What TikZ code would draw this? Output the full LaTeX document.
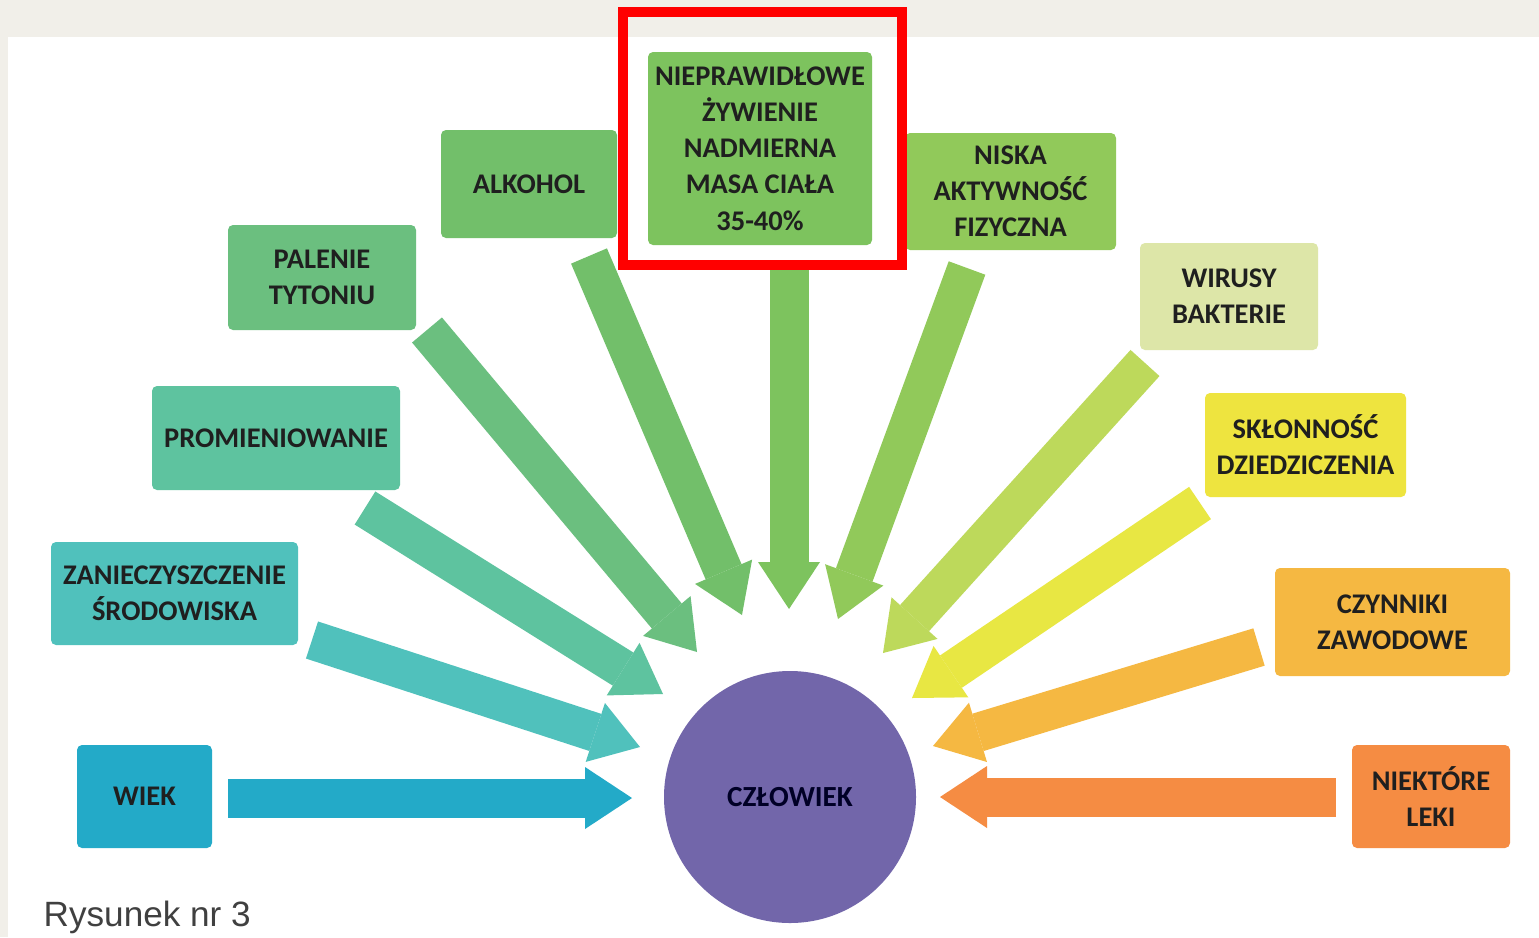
\documentclass[tikz,border=0pt]{standalone}
\usepackage{fontspec}
\setmainfont{Carlito}
\newfontfamily\capfont{Liberation Sans}
\usetikzlibrary{arrows.meta,positioning}

\definecolor{paper}{HTML}{F1EFE9}
\definecolor{cWiek}{HTML}{23AAC8}
\definecolor{cZan}{HTML}{50C1BC}
\definecolor{cProm}{HTML}{5EC39F}
\definecolor{cPal}{HTML}{6BBF7F}
\definecolor{cAlk}{HTML}{72BF6A}
\definecolor{cZyw}{HTML}{7DC35E}
\definecolor{cNis}{HTML}{91C95A}
\definecolor{cWir}{HTML}{DDE6A8}
\definecolor{aWir}{HTML}{BDD95B}
\definecolor{cSkl}{HTML}{EEE43F}
\definecolor{aSkl}{HTML}{E8E743}
\definecolor{cCzy}{HTML}{F5B842}
\definecolor{cLek}{HTML}{F58C43}
\definecolor{cCzl}{HTML}{7266AA}

\begin{document}
\begin{tikzpicture}[
    box/.style={rectangle, rounded corners=0.05cm, align=center, inner sep=0pt, text=black!88, font=\bfseries\fontsize{8.1}{10.3}\selectfont},
    bigarrow/.style={line width=3.9mm, -{Triangle[length=4.7mm, width=6.2mm, line width=0pt]}}
]
    \useasboundingbox (0,0) rectangle (15.39,9.37);
    \fill[paper] (0,0) rectangle (15.39,9.37);
    \fill[white] (0.08,0) rectangle (15.39,9.00);

    % czynniki
    \node[box, fill=cWiek, minimum width=1.35cm, minimum height=1.03cm] (wiek) at (1.445,1.405) {WIEK};
    \node[box, fill=cZan, minimum width=2.47cm, minimum height=1.03cm] (zan) at (1.745,3.435) {ZANIECZYSZCZENIE\\ŚRODOWISKA};
    \node[box, fill=cProm, minimum width=2.48cm, minimum height=1.04cm] (prom) at (2.76,4.99) {PROMIENIOWANIE};
    \node[box, fill=cPal, minimum width=1.88cm, minimum height=1.05cm] (pal) at (3.22,6.595) {PALENIE\\TYTONIU};
    \node[box, fill=cAlk, minimum width=1.76cm, minimum height=1.08cm] (alk) at (5.29,7.53) {ALKOHOL};
    \node[box, fill=cZyw, minimum width=2.24cm, minimum height=1.93cm] (zyw) at (7.60,7.885) {NIEPRAWIDŁOWE\\ŻYWIENIE\\NADMIERNA\\MASA CIAŁA\\35-40\%};
    \node[box, fill=cNis, minimum width=2.11cm, minimum height=1.17cm] (nis) at (10.105,7.455) {NISKA\\AKTYWNOŚĆ\\FIZYCZNA};
    \node[box, fill=cWir, minimum width=1.78cm, minimum height=1.07cm] (wir) at (12.29,6.405) {WIRUSY\\BAKTERIE};
    \node[box, fill=cSkl, minimum width=2.01cm, minimum height=1.04cm] (skl) at (13.055,4.92) {SKŁONNOŚĆ\\DZIEDZICZENIA};
    \node[box, fill=cCzy, minimum width=2.35cm, minimum height=1.08cm] (czy) at (13.925,3.15) {CZYNNIKI\\ZAWODOWE};
    \node[box, fill=cLek, minimum width=1.58cm, minimum height=1.03cm] (lek) at (14.31,1.405) {NIEKTÓRE\\LEKI};

    \node[circle, fill=cCzl, minimum size=2.52cm, inner sep=0pt, text=black!85!blue, font=\bfseries\fontsize{8.3}{10.3}\selectfont] (czl) at (7.90,1.40) {CZŁOWIEK};

    \node[anchor=base west, inner sep=0pt, text=black!75, font=\capfont\fontsize{10}{12}\selectfont] (rys) at (0.43,0.11) {Rysunek nr 3};

    % poczatki i konce strzalek
    \coordinate (wiek-t) at (2.28,1.39);  \coordinate (wiek-h) at (6.32,1.39);
    \coordinate (zan-t) at (3.12,2.97);   \coordinate (zan-h) at (6.40,1.90);
    \coordinate (prom-t) at (3.65,4.29);  \coordinate (prom-h) at (6.63,2.43);
    \coordinate (pal-t) at (4.27,6.07);   \coordinate (pal-h) at (6.97,2.85);
    \coordinate (alk-t) at (5.89,6.81);   \coordinate (alk-h) at (7.42,3.22);
    \coordinate (zyw-t) at (7.89,6.67);   \coordinate (zyw-h) at (7.89,3.28);
    \coordinate (nis-t) at (9.67,6.69);   \coordinate (nis-h) at (8.38,3.18);
    \coordinate (wir-t) at (11.45,5.74);  \coordinate (wir-h) at (8.83,2.84);
    \coordinate (skl-t) at (12.00,4.34);  \coordinate (skl-h) at (9.12,2.39);
    \coordinate (czy-t) at (12.59,2.90);  \coordinate (czy-h) at (9.33,1.91);
    \coordinate (lek-t) at (13.36,1.40);  \coordinate (lek-h) at (9.40,1.40);

    \foreach \n/\c in {wiek/cWiek, zan/cZan, prom/cProm, pal/cPal, alk/cAlk, zyw/cZyw, nis/cNis, wir/aWir, skl/aSkl, czy/cCzy, lek/cLek}
        \draw[bigarrow, \c] (\n-t) -- (\n-h);

    % ramka
    \draw[red, line width=1mm] (6.23,6.72) rectangle (9.02,9.25);
\end{tikzpicture}
\end{document}
